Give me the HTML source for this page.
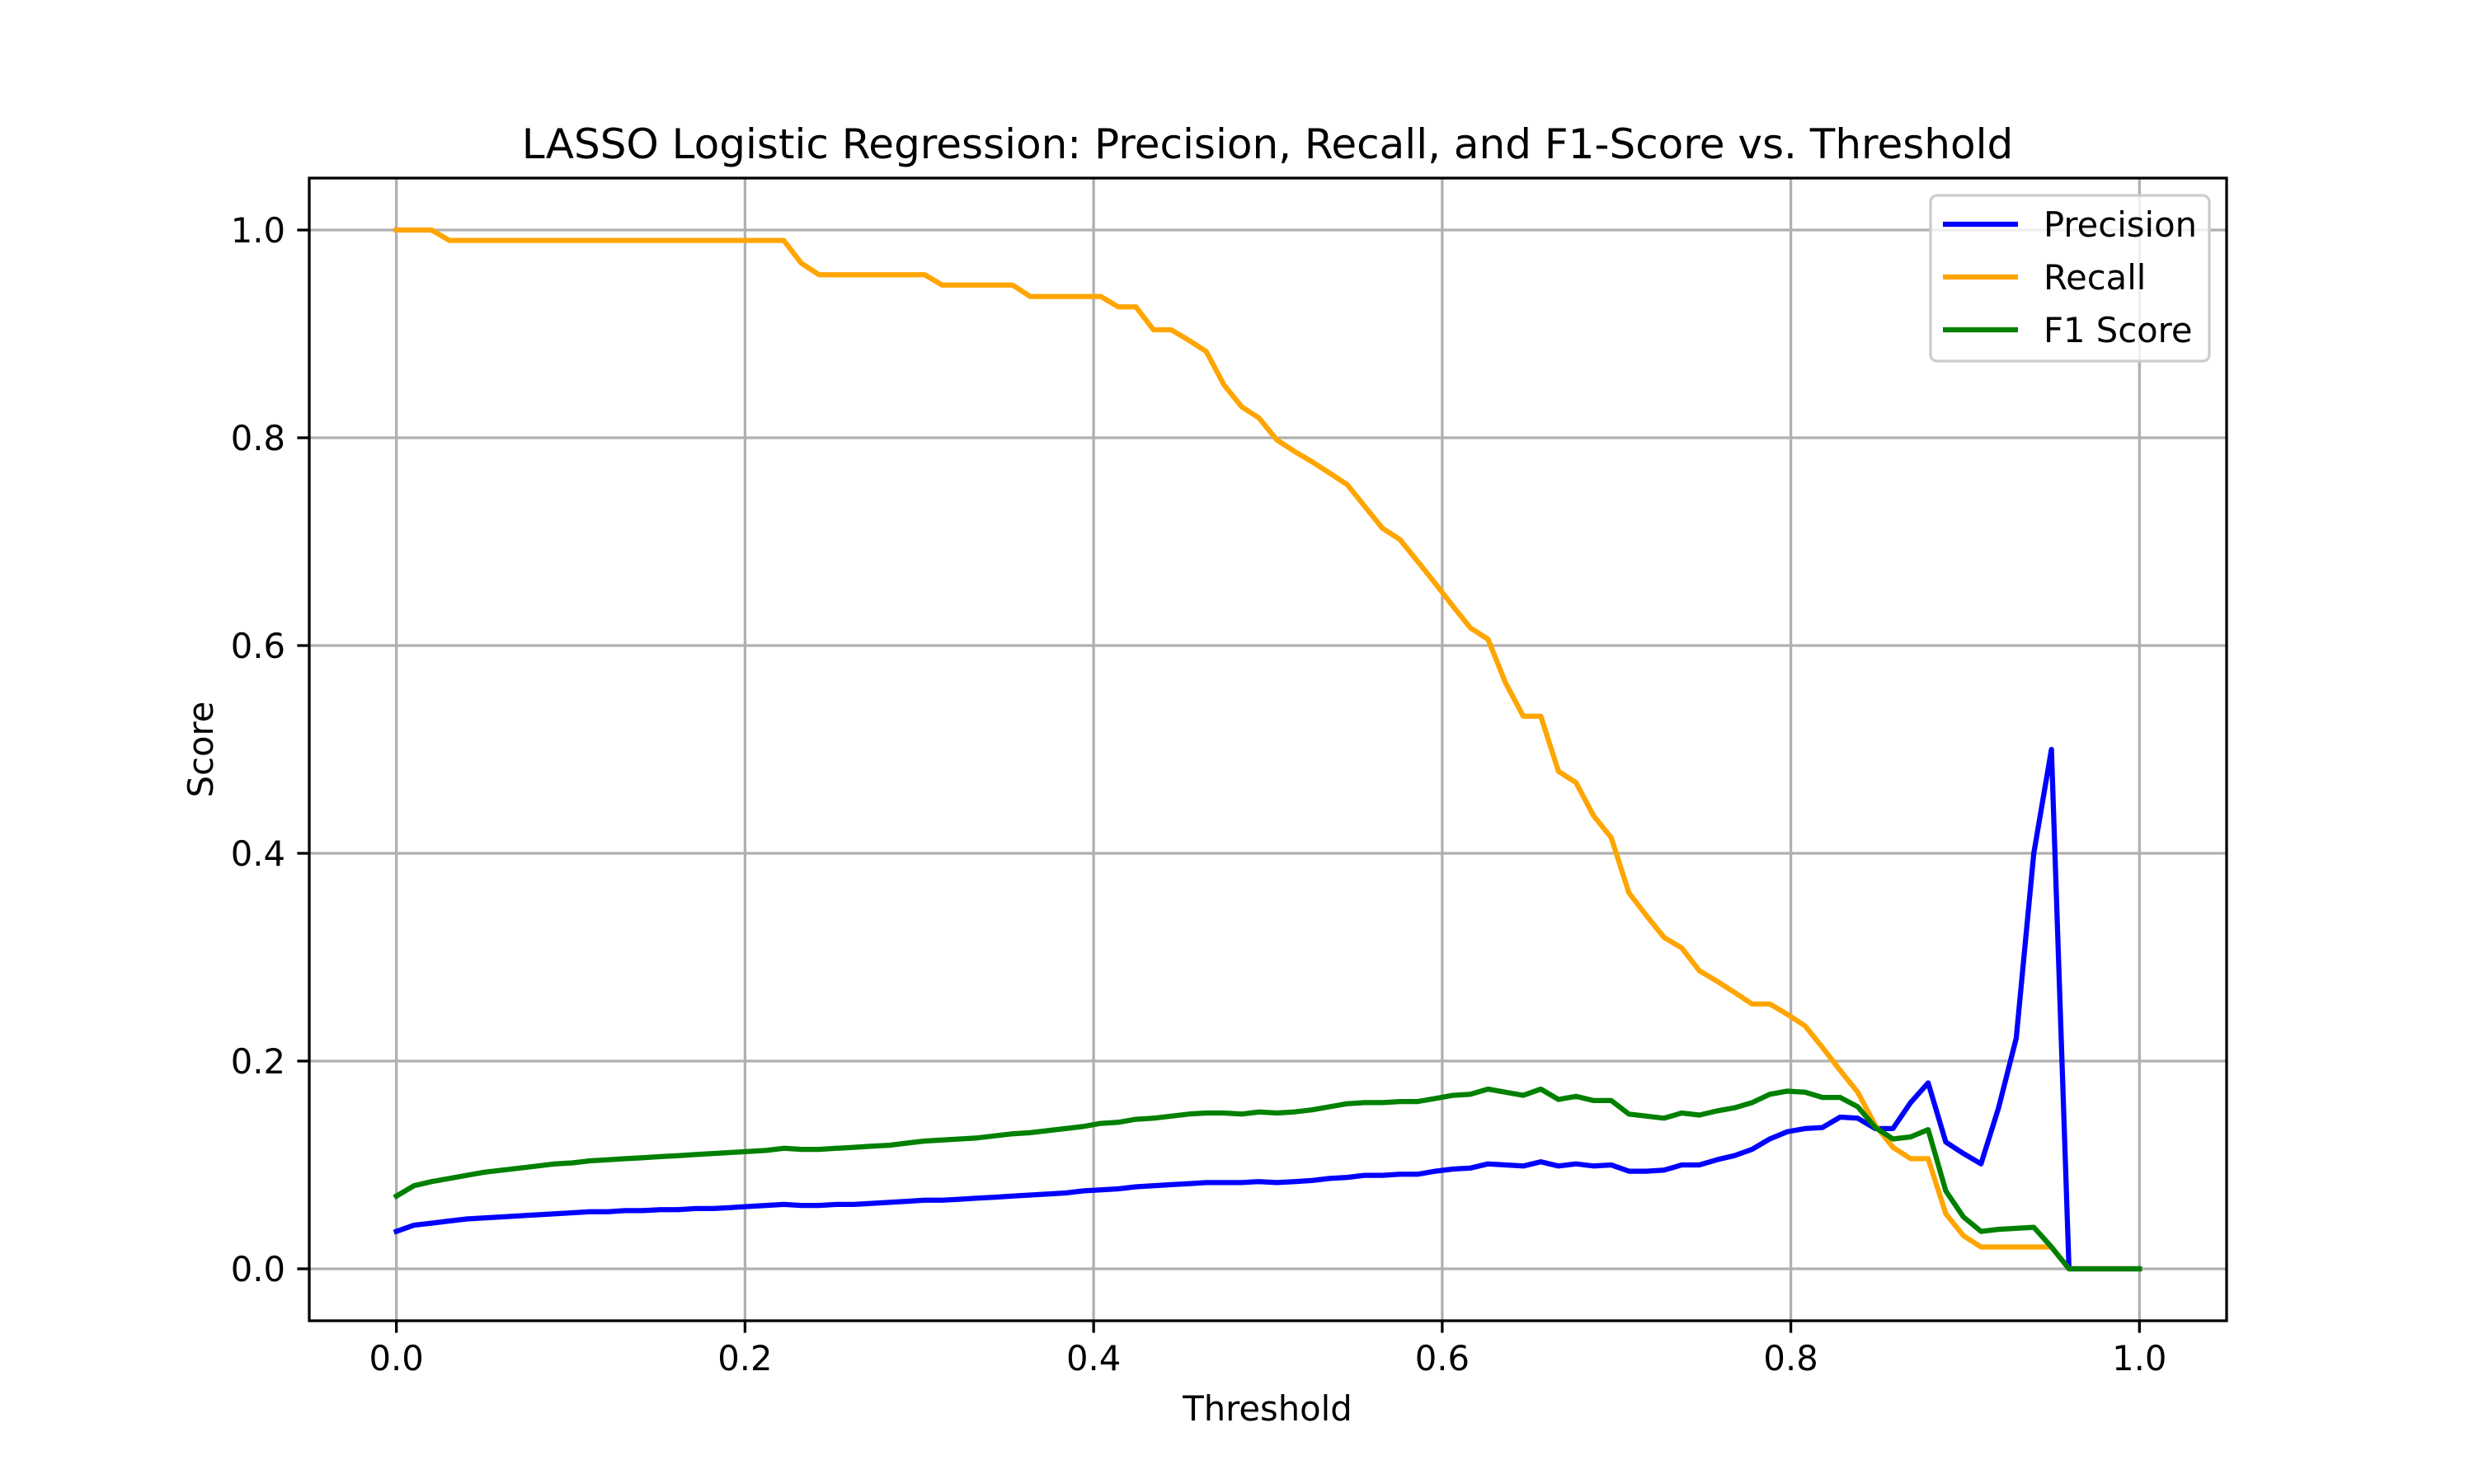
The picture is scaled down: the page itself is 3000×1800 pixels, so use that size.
<!DOCTYPE html>
<html><head><meta charset="utf-8"><style>html,body{margin:0;padding:0;background:#fff}svg{display:block}text{font-family:"DejaVu Sans","Liberation Sans",sans-serif;fill:#000}</style></head>
<body>
<svg id="chart" width="3000" height="1800" viewBox="0 0 3000 1800" xmlns="http://www.w3.org/2000/svg">
<rect width="3000" height="1800" fill="#fff"/>
<g id="grid"></g>
<g id="series"></g>
<rect x="375" y="216" width="2325" height="1386" fill="none" stroke="#000" stroke-width="3.3"/>
<g id="ticks"></g>
<text x="1537" y="192" font-size="50" text-anchor="middle">LASSO Logistic Regression: Precision, Recall, and F1-Score vs. Threshold</text>
<text x="1537" y="1723" font-size="41.7" text-anchor="middle">Threshold</text>
<text x="258" y="909" font-size="41.7" text-anchor="middle" transform="rotate(-90 258 909)">Score</text>
<g id="legend">
<rect x="2341" y="237" width="338" height="201" rx="8" fill="#fff" fill-opacity="0.8" stroke="#ccc" stroke-width="3.3"/>
</g>
</svg>
<script>
const thresholds = Array.from({length:100},(_,i)=>i/99);
const precision = [0.036,0.042,0.044,0.046,0.048,0.049,0.050,0.051,0.052,0.053,0.054,0.055,0.055,0.056,0.056,0.057,0.057,0.058,0.058,0.059,0.060,0.061,0.062,0.061,0.061,0.062,0.062,0.063,0.064,0.065,0.066,0.066,0.067,0.068,0.069,0.070,0.071,0.072,0.073,0.075,0.076,0.077,0.079,0.080,0.081,0.082,0.083,0.083,0.083,0.084,0.083,0.084,0.085,0.087,0.088,0.090,0.090,0.091,0.091,0.094,0.096,0.097,0.101,0.100,0.099,0.103,0.099,0.101,0.099,0.100,0.094,0.094,0.095,0.100,0.100,0.105,0.109,0.115,0.125,0.132,0.135,0.136,0.146,0.145,0.135,0.135,0.160,0.179,0.122,0.111,0.101,0.155,0.222,0.400,0.500,0,0,0,0,0];
const recall = [1.0,1.0,1.0,0.99,0.99,0.99,0.99,0.99,0.99,0.99,0.99,0.99,0.99,0.99,0.99,0.99,0.99,0.99,0.99,0.99,0.99,0.99,0.99,0.968,0.957,0.957,0.957,0.957,0.957,0.957,0.957,0.947,0.947,0.947,0.947,0.947,0.936,0.936,0.936,0.936,0.936,0.926,0.926,0.904,0.904,0.894,0.883,0.851,0.830,0.819,0.798,0.787,0.777,0.766,0.755,0.734,0.713,0.702,0.681,0.660,0.638,0.617,0.606,0.564,0.532,0.532,0.479,0.468,0.436,0.415,0.362,0.340,0.319,0.309,0.287,0.277,0.266,0.255,0.255,0.245,0.234,0.213,0.191,0.170,0.138,0.117,0.106,0.106,0.053,0.032,0.021,0.021,0.021,0.021,0.021,0,0,0,0,0];
const f1 = [0.070,0.080,0.084,0.087,0.090,0.093,0.095,0.097,0.099,0.101,0.102,0.104,0.105,0.106,0.107,0.108,0.109,0.110,0.111,0.112,0.113,0.114,0.116,0.115,0.115,0.116,0.117,0.118,0.119,0.121,0.123,0.124,0.125,0.126,0.128,0.130,0.131,0.133,0.135,0.137,0.140,0.141,0.144,0.145,0.147,0.149,0.150,0.150,0.149,0.151,0.150,0.151,0.153,0.156,0.159,0.160,0.160,0.161,0.161,0.164,0.167,0.168,0.173,0.170,0.167,0.173,0.163,0.166,0.162,0.162,0.149,0.147,0.145,0.150,0.148,0.152,0.155,0.160,0.168,0.171,0.170,0.165,0.165,0.156,0.136,0.125,0.127,0.134,0.075,0.050,0.036,0.038,0.039,0.040,0.021,0,0,0,0,0];
const xTicks = [0,0.2,0.4,0.6,0.8,1.0];
const xTickLabels = ["0.0","0.2","0.4","0.6","0.8","1.0"];
const yTicks = [0,0.2,0.4,0.6,0.8,1.0];
const yTickLabels = ["0.0","0.2","0.4","0.6","0.8","1.0"];
const seriesNames = ["Precision","Recall","F1 Score"];
const seriesColors = ["#0000ff","#ffa500","#008000"];

const NS="http://www.w3.org/2000/svg";
const L=375,R=2700,T=216,B=1602;
const xs=v=>L+(v+0.05)/1.1*(R-L);
const ys=v=>B-(v+0.05)/1.1*(B-T);
function mk(tag,attrs,parent){const e=document.createElementNS(NS,tag);for(const k in attrs)e.setAttribute(k,attrs[k]);parent.appendChild(e);return e;}
const grid=document.getElementById('grid'),ticks=document.getElementById('ticks'),series=document.getElementById('series'),legend=document.getElementById('legend');
xTicks.forEach((v,i)=>{
  const g=mk('line',{x1:xs(v),x2:xs(v),y1:T,y2:B,stroke:'#b0b0b0','stroke-width':3.3},grid);
  
  
  const t=mk('line',{x1:xs(v),x2:xs(v),y1:B,y2:B+14.6,stroke:'#000','stroke-width':3.3},ticks);
  
  
  const l=mk('text',{x:xs(v),y:B+60,'font-size':41.7,'text-anchor':'middle'},ticks);
  l.textContent=xTickLabels[i];
  
  
});
yTicks.forEach((v,i)=>{
  const g=mk('line',{x1:L,x2:R,y1:ys(v),y2:ys(v),stroke:'#b0b0b0','stroke-width':3.3},grid);
  
  
  const t=mk('line',{x1:L-14.6,x2:L,y1:ys(v),y2:ys(v),stroke:'#000','stroke-width':3.3},ticks);
  
  
  const l=mk('text',{x:L-29,y:ys(v)+15,'font-size':41.7,'text-anchor':'end'},ticks);
  l.textContent=yTickLabels[i];
  
  
});
[precision,recall,f1].forEach((arr,si)=>{
  const d=arr.map((v,i)=>(i?'L':'M')+xs(thresholds[i]).toFixed(1)+','+ys(v).toFixed(1)).join(' ');
  const p=mk('path',{d:d,fill:'none',stroke:seriesColors[si],'stroke-width':6.25,'stroke-linejoin':'round','stroke-linecap':'square'},series);
  
  
  const y=272+si*64;
  const ll=mk('line',{x1:2356,x2:2447,y1:y,y2:y,stroke:seriesColors[si],'stroke-width':6.25},legend);
  
  
  const lt=mk('text',{x:2478,y:y+15,'font-size':41.7},legend);
  lt.textContent=seriesNames[si];
  
  
});
</script>
</body></html>
